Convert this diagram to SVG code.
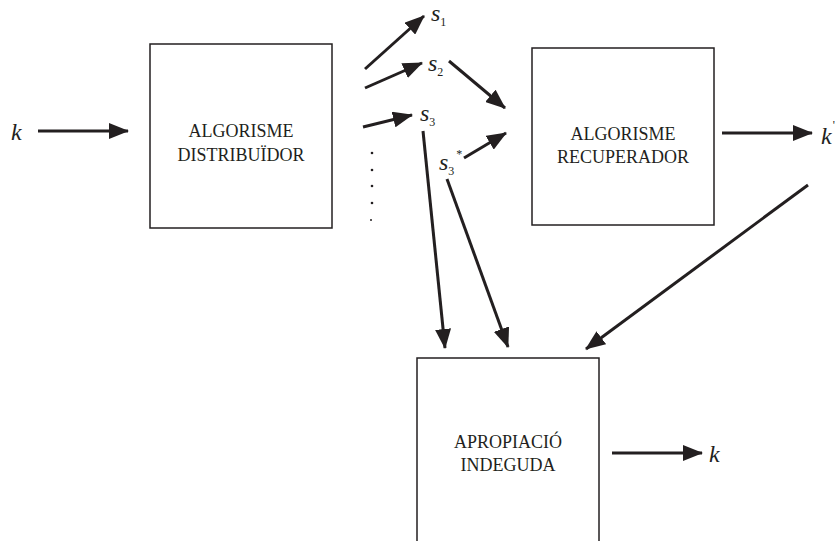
<svg xmlns="http://www.w3.org/2000/svg" width="837" height="541" viewBox="0 0 837 541">
<style>
.box{fill:#fff;stroke:#231f20;stroke-width:1.5}
.lbl{font-family:"Liberation Serif",serif;font-size:18px;fill:#231f20;text-anchor:middle}
.it{font-family:"Liberation Serif",serif;font-style:italic;font-size:24px;fill:#231f20}
.sub{font-family:"Liberation Serif",serif;font-size:12px;fill:#231f20;font-style:normal}
.con line{stroke:#231f20;stroke-width:3;marker-end:url(#ah)}
</style>
<defs>
<marker id="ah" markerWidth="20" markerHeight="16" refX="19" refY="8" orient="auto" markerUnits="userSpaceOnUse">
<path d="M0,0 L20,8 L0,16 Z" fill="#231f20"/>
</marker>
</defs>
<rect width="837" height="541" fill="#fff"/>
<g id="distribuidor">
<rect class="box" x="150" y="44" width="182" height="184"/>
<text class="lbl" x="241" y="137">ALGORISME</text>
<text class="lbl" x="241" y="161">DISTRIBUÏDOR</text>
</g>
<g id="recuperador">
<rect class="box" x="532" y="48" width="182" height="177"/>
<text class="lbl" x="623" y="140">ALGORISME</text>
<text class="lbl" x="623" y="163">RECUPERADOR</text>
</g>
<g id="apropiacio">
<rect class="box" x="417" y="358" width="182" height="200"/>
<text class="lbl" x="508" y="448">APROPIACIÓ</text>
<text class="lbl" x="508" y="471">INDEGUDA</text>
</g>
<g id="labels">
<text class="it" x="11" y="140">k</text>
<text class="it" x="821" y="144">k<tspan class="sub" dx="1" dy="-15" font-size="8">'</tspan></text>
<text class="it" x="709" y="462">k</text>
<text class="it" x="431" y="21">s<tspan class="sub" dy="5">1</tspan></text>
<text class="it" x="428" y="71">s<tspan class="sub" dy="5">2</tspan></text>
<text class="it" x="420" y="121">s<tspan class="sub" dy="5">3</tspan></text>
<text class="it" x="439" y="170">s<tspan class="sub" dy="5">3</tspan><tspan class="sub" dx="2" dy="-17" font-size="10">*</tspan></text>
</g>
<g id="dots" fill="#231f20">
<circle cx="372" cy="153" r="1.3"/>
<circle cx="372" cy="170" r="1.3"/>
<circle cx="372" cy="186" r="1.3"/>
<circle cx="372" cy="203" r="1.3"/>
<circle cx="371" cy="220" r="1"/>
</g>
<g id="connectors" class="con">
<line x1="38" y1="131" x2="128" y2="131"/>
<line x1="722" y1="133" x2="812" y2="133"/>
<line x1="365" y1="69" x2="424" y2="16"/>
<line x1="365" y1="88" x2="422" y2="63"/>
<line x1="363" y1="127" x2="412" y2="115"/>
<line x1="449" y1="61" x2="505" y2="108"/>
<line x1="464" y1="158" x2="506" y2="133"/>
<line x1="423" y1="131" x2="445" y2="348"/>
<line x1="447" y1="179" x2="508" y2="347"/>
<line x1="808" y1="185" x2="586" y2="349"/>
<line x1="612" y1="453" x2="702" y2="453"/>
</g>
</svg>
